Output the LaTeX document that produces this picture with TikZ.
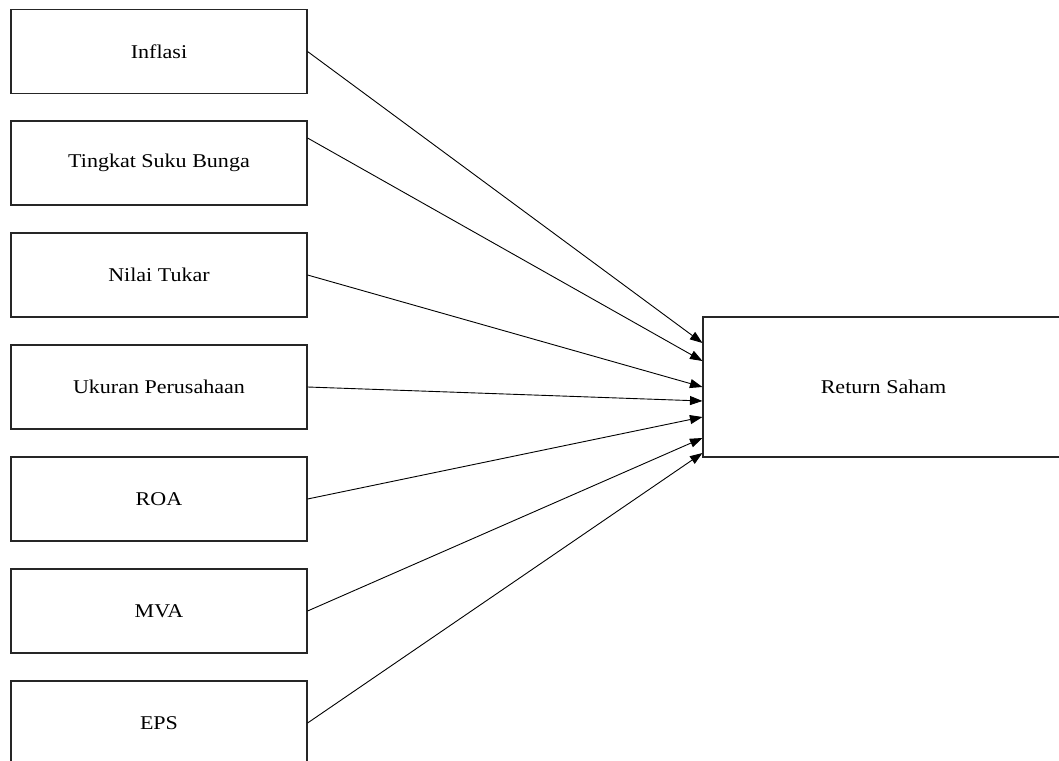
\documentclass[tikz,border=0pt]{standalone}
\usepackage{fontspec}
\setmainfont{Liberation Serif}
\newfontfamily\lblfont[FakeStretch=1.13]{Liberation Serif}
\usetikzlibrary{arrows.meta}
\begin{document}
\begin{tikzpicture}[x=1pt,y=-1pt,
  varbox/.style={draw=black!85, line width=1.1pt, fill=white, minimum width=296pt, minimum height=84pt,
    inner sep=0pt, font=\lblfont\fontsize{19.5}{22}\selectfont},
  link/.style={draw=black, line width=0.9pt, -{Triangle[length=12.5pt,width=9pt]}}]
\clip (0,0) rectangle (1059,760);
\fill[white] (0,0) rectangle (1059,760);
\node[varbox] (b1) at (159,51.5) {Inflasi};
\node[varbox] (b2) at (159,163) {Tingkat Suku Bunga};
\node[varbox] (b3) at (159,275) {Nilai Tukar};
\node[varbox] (b4) at (159,387) {Ukuran Perusahaan};
\node[varbox] (b5) at (159,499) {ROA};
\node[varbox] (b6) at (159,611) {MVA};
\node[varbox] (b7) at (159,723) {EPS};
\node[varbox, minimum width=361pt, minimum height=140pt] (r) at (883.5,387) {Return Saham};
\coordinate (s2) at ([yshift=25pt]b2.east);
\coordinate (e1) at ([yshift=44pt]r.west);
\coordinate (e2) at ([yshift=26pt]r.west);
\coordinate (e3) at (r.west);
\coordinate (e4) at ([yshift=-14pt]r.west);
\coordinate (e5) at ([yshift=-30pt]r.west);
\coordinate (e6) at ([yshift=-51pt]r.west);
\coordinate (e7) at ([yshift=-66pt]r.west);
\draw[link] (b1.east) -- (e1);
\draw[link] (s2) -- (e2);
\draw[link] (b3.east) -- (e3);
\draw[link] (b4.east) -- (e4);
\draw[link] (b5.east) -- (e5);
\draw[link] (b6.east) -- (e6);
\draw[link] (b7.east) -- (e7);
\end{tikzpicture}
\end{document}
